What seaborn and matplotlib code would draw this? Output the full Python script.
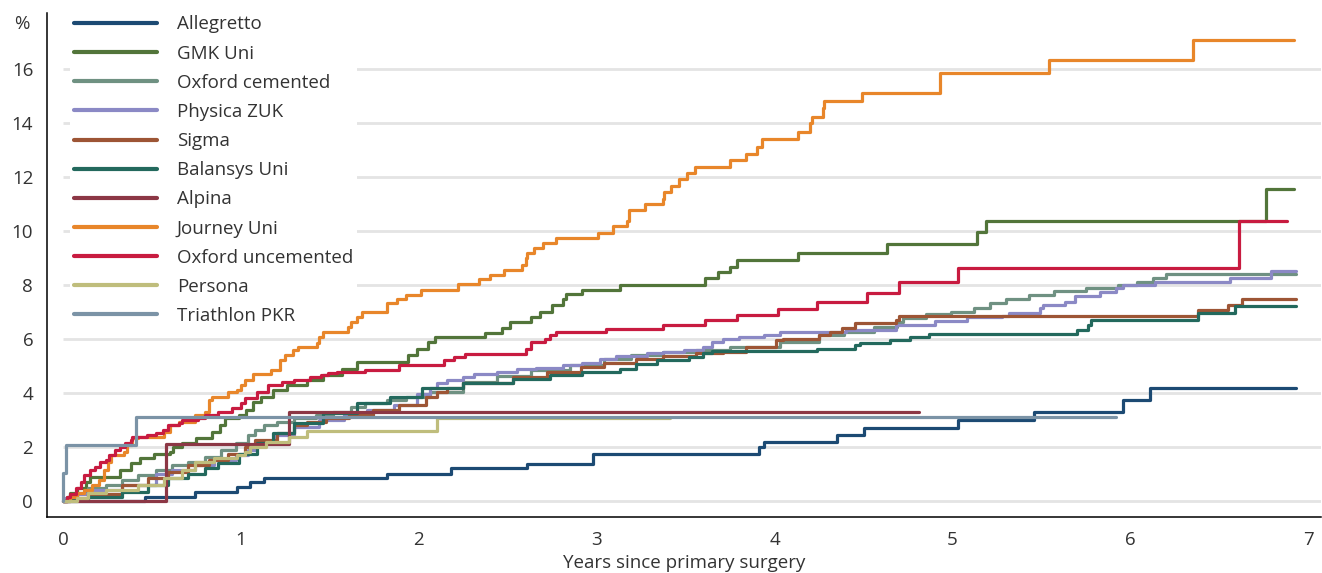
import pandas as pd
import numpy as np
import matplotlib.pyplot as plt
import seaborn as sns

# values (years since surgery, cumulative revision %)
implants = ["Allegretto", "GMK Uni", "Oxford cemented", "Physica ZUK", "Sigma",
            "Balansys Uni", "Alpina", "Journey Uni", "Oxford uncemented", "Persona",
            "Triathlon PKR"]
colors = ["#1c4a73", "#52753a", "#6f9182", "#8b89c5", "#9d5535",
          "#23695d", "#8c3745", "#e8862a", "#c81b40", "#bfbd7c", "#7b93a6"]

allegretto_x = [0, 0.46, 0.74, 0.98, 1.05, 1.13, 1.82, 2.18, 2.61, 2.98, 3.91, 3.94,
                4.35, 4.50, 5.03, 5.46, 5.96, 6.11, 6.93]
allegretto_y = [0, 0.14, 0.34, 0.53, 0.71, 0.84, 1.02, 1.21, 1.37, 1.74, 2.01, 2.2,
                2.44, 2.69, 3.0, 3.31, 3.74, 4.17, 4.17]

gmk_x = [0, 0.02, 0.04, 0.08, 0.13, 0.15, 0.32, 0.38, 0.43, 0.51, 0.60, 0.62, 0.67,
         0.75, 0.84, 0.88, 0.91, 0.99, 1.03, 1.07, 1.11, 1.18, 1.26, 1.37, 1.46, 1.57,
         1.65, 1.94, 1.99, 2.05, 2.09, 2.37, 2.47, 2.51, 2.63, 2.68, 2.75, 2.81, 2.83,
         2.92, 3.13, 3.61, 3.68, 3.75, 3.79, 4.13, 4.63, 5.14, 5.19, 6.76, 6.92]
gmk_y = [0, 0.15, 0.31, 0.5, 0.71, 0.9, 1.15, 1.4, 1.58, 1.74, 1.83, 2.01, 2.14,
         2.32, 2.57, 2.81, 3.06, 3.19, 3.37, 3.68, 3.86, 4.11, 4.3, 4.48, 4.67, 4.91,
         5.16, 5.41, 5.65, 5.9, 6.09, 6.21, 6.4, 6.64, 6.83, 7.01, 7.26, 7.5, 7.68,
         7.81, 8.0, 8.25, 8.49, 8.68, 8.93, 9.2, 9.52, 9.95, 10.38, 11.56, 11.56]

oxc_x = [0, 0.03, 0.08, 0.14, 0.24, 0.33, 0.42, 0.52, 0.61, 0.70, 0.80, 0.89, 0.97,
         1.04, 1.08, 1.13, 1.20, 1.30, 1.42, 1.52, 1.62, 1.70, 1.82, 1.93, 2.06, 2.25,
         2.44, 2.63, 2.85, 3.04, 3.19, 3.37, 3.56, 3.75, 4.03, 4.25, 4.39, 4.56, 4.69,
         4.72, 4.85, 4.99, 5.12, 5.21, 5.30, 5.43, 5.57, 5.75, 5.93, 6.04, 6.13, 6.20, 6.93]
oxc_y = [0, 0.15, 0.3, 0.47, 0.59, 0.78, 0.96, 1.15, 1.33, 1.46, 1.64, 1.89, 2.14,
         2.44, 2.63, 2.81, 2.94, 3.06, 3.19, 3.31, 3.47, 3.62, 3.74, 3.86, 4.05, 4.42,
         4.63, 4.85, 5.04, 5.28, 5.41, 5.53, 5.59, 5.69, 5.9, 6.15, 6.27, 6.46, 6.64,
         6.77, 6.93, 7.01, 7.14, 7.32, 7.47, 7.63, 7.79, 7.9, 8.0, 8.12, 8.25, 8.41, 8.41]

zuk_x = [0, 0.01, 0.08, 0.14, 0.33, 0.52, 0.61, 0.74, 0.85, 0.97, 1.04, 1.08, 1.19,
         1.30, 1.44, 1.58, 1.71, 1.86, 1.99, 2.06, 2.10, 2.16, 2.25, 2.31, 2.44, 2.55,
         2.66, 2.81, 2.92, 3.02, 3.11, 3.28, 3.37, 3.49, 3.60, 3.65, 3.71, 3.80, 3.94,
         4.03, 4.40, 4.68, 4.90, 5.08, 5.28, 5.32, 5.49, 5.51, 5.63, 5.69, 5.83, 5.92,
         5.96, 6.14, 6.56, 6.79, 6.93]
zuk_y = [0, 0.1, 0.25, 0.41, 0.59, 1.02, 1.15, 1.33, 1.52, 1.7, 1.89, 2.14, 2.44,
         2.75, 3.0, 3.19, 3.37, 3.56, 3.95, 4.2, 4.36, 4.48, 4.6, 4.7, 4.79, 4.88,
         4.94, 5.04, 5.12, 5.28, 5.37, 5.47, 5.53, 5.59, 5.72, 5.9, 6.02, 6.09, 6.15,
         6.27, 6.33, 6.52, 6.68, 6.8, 6.85, 6.97, 7.14, 7.26, 7.38, 7.6, 7.73, 7.91,
         8.0, 8.12, 8.28, 8.53, 8.53]

sigma_x = [0, 0.02, 0.14, 0.33, 0.48, 0.59, 0.70, 0.82, 0.93, 1.02, 1.08, 1.20, 1.30,
           1.37, 1.48, 1.61, 1.74, 1.89, 2.04, 2.10, 2.16, 2.25, 2.53, 2.72, 2.91, 3.04,
           3.22, 3.37, 3.56, 3.71, 3.84, 4.01, 4.05, 4.25, 4.31, 4.38, 4.45, 4.68, 4.70,
           6.38, 6.55, 6.63, 6.93]
sigma_y = [0, 0.1, 0.28, 0.59, 0.84, 1.09, 1.33, 1.52, 1.76, 2.01, 2.26, 2.51, 2.81,
           2.94, 3.06, 3.19, 3.37, 3.56, 3.85, 4.05, 4.2, 4.36, 4.6, 4.79, 4.97, 5.12,
           5.28, 5.37, 5.47, 5.53, 5.72, 5.96, 6.02, 6.15, 6.27, 6.4, 6.58, 6.7, 6.85,
           7.07, 7.26, 7.48, 7.48]

balansys_x = [0, 0.04, 0.14, 0.33, 0.48, 0.59, 0.70, 0.80, 0.87, 0.99, 1.09, 1.18, 1.30,
              1.46, 1.65, 1.84, 2.02, 2.25, 2.53, 2.74, 2.92, 3.13, 3.22, 3.34, 3.52,
              3.60, 3.65, 4.24, 4.45, 4.48, 4.65, 4.76, 4.87, 5.70, 5.76, 5.78, 6.38,
              6.59, 6.93]
balansys_y = [0, 0.05, 0.16, 0.34, 0.59, 0.84, 1.02, 1.21, 1.4, 1.76, 2.14, 2.51, 2.88,
              3.25, 3.62, 3.86, 4.17, 4.36, 4.54, 4.67, 4.79, 4.91, 5.07, 5.22, 5.32,
              5.49, 5.57, 5.65, 5.78, 5.84, 5.96, 6.06, 6.19, 6.33, 6.52, 6.7, 6.95,
              7.22, 7.22]

alpina_x = [0, 0.58, 1.27, 4.81]
alpina_y = [0, 2.13, 3.31, 3.31]

journey_x = [0, 0.04, 0.08, 0.12, 0.16, 0.20, 0.23, 0.25, 0.27, 0.34, 0.36, 0.39, 0.42,
             0.57, 0.60, 0.65, 0.74, 0.80, 0.82, 0.84, 0.93, 0.98, 1.00, 1.02, 1.07,
             1.17, 1.22, 1.25, 1.29, 1.32, 1.43, 1.44, 1.46, 1.60, 1.62, 1.65, 1.68,
             1.82, 1.88, 1.93, 2.01, 2.22, 2.34, 2.40, 2.48, 2.58, 2.60, 2.61, 2.65,
             2.70, 2.77, 3.01, 3.09, 3.17, 3.18, 3.27, 3.37, 3.38, 3.42, 3.46, 3.51,
             3.55, 3.75, 3.84, 3.90, 3.93, 4.13, 4.20, 4.21, 4.27, 4.28, 4.49, 4.93,
             5.54, 6.35, 6.92]
journey_y = [0, 0.15, 0.3, 0.41, 0.6, 0.78, 1.15, 1.46, 1.7, 1.83, 2.07, 2.32, 2.38,
             2.57, 2.81, 2.94, 3.19, 3.31, 3.74, 3.86, 4.05, 4.11, 4.3, 4.48, 4.72,
             4.85, 5.22, 5.41, 5.59, 5.72, 5.84, 6.09, 6.27, 6.46, 6.64, 6.83, 7.01,
             7.35, 7.5, 7.65, 7.81, 8.04, 8.21, 8.37, 8.56, 8.74, 8.99, 9.17, 9.38,
             9.57, 9.75, 9.94, 10.17, 10.37, 10.78, 11.0, 11.2, 11.43, 11.68, 11.93, 12.14,
             12.38, 12.63, 12.87, 13.1, 13.4, 13.67, 13.99, 14.23, 14.54, 14.81, 15.1, 15.86,
             16.32, 17.07, 17.07]

oxu_x = [0, 0.02, 0.04, 0.07, 0.10, 0.12, 0.15, 0.18, 0.21, 0.24, 0.26, 0.29, 0.32,
         0.35, 0.38, 0.39, 0.47, 0.52, 0.56, 0.59, 0.65, 0.67, 0.76, 0.80, 0.87, 0.95,
         1.00, 1.02, 1.09, 1.15, 1.23, 1.30, 1.39, 1.45, 1.49, 1.54, 1.70, 1.89, 2.14,
         2.20, 2.26, 2.60, 2.63, 2.71, 2.74, 2.77, 3.05, 3.37, 3.61, 3.79, 4.02, 4.24,
         4.52, 4.70, 5.03, 6.61, 6.88]
oxu_y = [0, 0.15, 0.28, 0.47, 0.71, 0.96, 1.15, 1.27, 1.46, 1.52, 1.7, 1.89, 2.01,
         2.14, 2.26, 2.38, 2.44, 2.51, 2.63, 2.81, 2.88, 3.0, 3.06, 3.19, 3.31, 3.43,
         3.62, 3.8, 4.05, 4.3, 4.42, 4.48, 4.6, 4.67, 4.73, 4.79, 4.85, 5.04, 5.22,
         5.35, 5.44, 5.65, 5.9, 6.02, 6.15, 6.27, 6.37, 6.52, 6.7, 6.89, 7.1, 7.36,
         7.69, 8.12, 8.65, 10.37, 10.37]

persona_x = [0, 0.08, 0.14, 0.24, 0.42, 0.57, 0.67, 0.74, 0.85, 0.98, 1.02, 1.05, 1.14,
             1.27, 1.37, 2.10, 3.41]
persona_y = [0, 0.1, 0.3, 0.41, 0.59, 0.84, 1.15, 1.46, 1.6, 1.7, 1.8, 2.01, 2.2,
             2.38, 2.6, 3.08, 3.08]

triathlon_x = [0, 0.002, 0.017, 0.41, 5.92]
triathlon_y = [0, 1.05, 2.07, 3.1, 3.1]

series_x = [allegretto_x, gmk_x, oxc_x, zuk_x, sigma_x, balansys_x, alpina_x,
            journey_x, oxu_x, persona_x, triathlon_x]
series_y = [allegretto_y, gmk_y, oxc_y, zuk_y, sigma_y, balansys_y, alpina_y,
            journey_y, oxu_y, persona_y, triathlon_y]

frames = []
for name, xs, ys in zip(implants, series_x, series_y):
    frames.append(pd.DataFrame({"years": xs, "pct": ys, "implant": name}))
df = pd.concat(frames, ignore_index=True)

sns.set_style("white")
plt.rcParams["font.family"] = ["Open Sans", "DejaVu Sans"]
text_col = "#333333"
fs = 13.5

fig, ax = plt.subplots(figsize=(13.22, 5.73), dpi=100)
fig.subplots_adjust(left=0.0356, right=0.999, bottom=0.0977, top=0.977)

# light horizontal grid starting at x=0
yticks = np.arange(0, 17, 2)
ax.hlines(yticks, 0, 7.2, color="#e4e4e4", lw=2, zorder=0)

for name, col in zip(implants, colors):
    sns.lineplot(data=df[df["implant"] == name], x="years", y="pct", color=col,
                 label=name, drawstyle="steps-post", estimator=None, sort=False,
                 errorbar=None, lw=2.3, ax=ax)

ax.set_xlim(-0.09, 7.07)
ax.set_ylim(-0.59, 18.07)
ax.set_xticks(range(0, 8))
ax.set_yticks(yticks)
ax.set_ylabel("")
ax.set_xlabel("Years since primary surgery", fontsize=fs, color=text_col, labelpad=4)
ax.tick_params(direction="out", length=6, width=1.1, labelsize=fs,
               labelcolor=text_col, color="black", pad=4)
for side in ["top", "right"]:
    ax.spines[side].set_visible(False)
for side in ["left", "bottom"]:
    ax.spines[side].set_color("black")
    ax.spines[side].set_linewidth(1.1)

fig.text(22 / 1322, 1 - 24 / 573, "%", ha="center", va="center", fontsize=fs,
         color=text_col)

leg = ax.legend(loc="upper left", bbox_to_anchor=(0.053, 0.9795),
                bbox_transform=fig.transFigure, fontsize=fs, frameon=True,
                facecolor="white", edgecolor="none", framealpha=1,
                handlelength=4.45, handletextpad=1.05, labelspacing=0.595,
                borderpad=0.2, borderaxespad=0)
leg.set_zorder(1)  # white box hides the grid but sits under the curves
for line in leg.get_lines():
    line.set_linewidth(3)
for t in leg.get_texts():
    t.set_color(text_col)

fig.savefig("out.png", dpi=100)
